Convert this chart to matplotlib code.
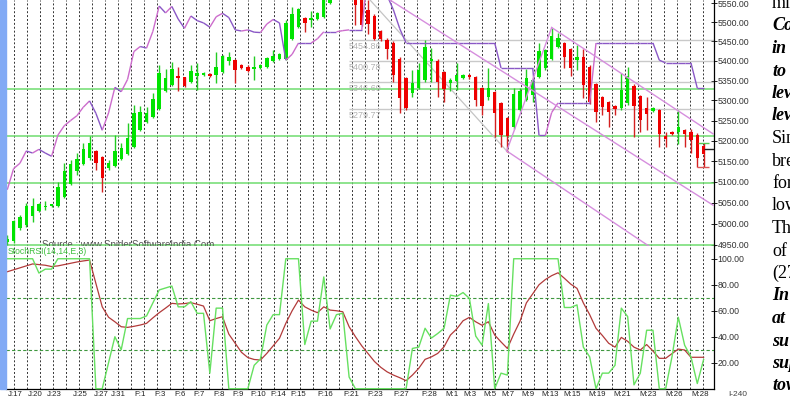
import numpy as np
import matplotlib
matplotlib.use("Agg")
import matplotlib.pyplot as plt
from matplotlib.collections import LineCollection
from matplotlib.patches import Rectangle
from matplotlib.ticker import FixedLocator, FormatStrFormatter, NullLocator

plt.rcParams['font.family'] = ['Liberation Sans', 'DejaVu Sans']

# 240-minute bars, Jan 17 - Mar 28
opens = [4958, 4959, 4990, 4997, 5018, 5030, 5040, 5041, 5041, 5063,
         5095, 5126, 5143, 5158, 5175, 5160, 5133, 5138, 5155, 5167,
         5185, 5226, 5247, 5259, 5279, 5324, 5339, 5362, 5359, 5347,
         5362, 5364, 5367, 5364, 5372, 5400, 5402, 5390, 5385, 5380,
         5382, 5385, 5400, 5405, 5405, 5456, 5488, 5511, 5506, 5509,
         5514, 5550, 5575, 5600, 5590, 5605, 5565, 5532, 5516, 5477,
         5454, 5446, 5405, 5357, 5319, 5331, 5352, 5400, 5400, 5372,
         5344, 5349, 5357, 5363, 5359, 5331, 5309, 5321, 5294, 5256,
         5234, 5276, 5301, 5314, 5360, 5382, 5405, 5436, 5446, 5431,
         5402, 5410, 5385, 5341, 5309, 5296, 5286, 5281, 5294, 5336,
         5311, 5281, 5274, 5276, 5212, 5222, 5221, 5226, 5221, 5214,
         5187]
highs = [4973, 5009, 5020, 5050, 5061, 5050, 5053, 5048, 5099, 5145,
         5153, 5170, 5194, 5212, 5177, 5162, 5153, 5214, 5194, 5244,
         5289, 5286, 5284, 5319, 5390, 5380, 5397, 5385, 5360, 5390,
         5395, 5372, 5369, 5423, 5415, 5423, 5405, 5392, 5390, 5412,
         5393, 5410, 5428, 5420, 5506, 5540, 5538, 5513, 5529, 5527,
         5570, 5590, 5610, 5620, 5615, 5610, 5575, 5558, 5520, 5480,
         5458, 5450, 5410, 5360, 5377, 5395, 5454, 5433, 5405, 5375,
         5357, 5395, 5367, 5368, 5362, 5334, 5382, 5324, 5296, 5258,
         5331, 5331, 5380, 5357, 5446, 5431, 5485, 5472, 5449, 5433,
         5441, 5431, 5390, 5344, 5311, 5299, 5289, 5369, 5385, 5341,
         5314, 5309, 5284, 5279, 5222, 5225, 5276, 5230, 5228, 5219,
         5195]
lows = [4950, 4955, 4985, 4992, 5004, 5028, 5032, 5040, 5040, 5061,
        5092, 5116, 5141, 5153, 5128, 5075, 5128, 5136, 5153, 5165,
        5182, 5224, 5244, 5257, 5276, 5321, 5337, 5324, 5334, 5344,
        5326, 5362, 5360, 5344, 5370, 5390, 5344, 5380, 5372, 5352,
        5380, 5382, 5398, 5403, 5403, 5454, 5485, 5475, 5488, 5506,
        5510, 5548, 5565, 5575, 5570, 5493, 5490, 5470, 5454, 5452,
        5405, 5347, 5269, 5276, 5309, 5329, 5347, 5347, 5309, 5296,
        5324, 5326, 5355, 5355, 5286, 5264, 5301, 5209, 5184, 5172,
        5230, 5274, 5299, 5296, 5357, 5377, 5402, 5433, 5382, 5362,
        5377, 5306, 5290, 5246, 5264, 5234, 5264, 5276, 5289, 5209,
        5221, 5226, 5272, 5184, 5185, 5215, 5192, 5184, 5170, 5136,
        5136]
closes = [4965, 5006, 5016, 5041, 5041, 5046, 5043, 5046, 5087, 5126,
          5143, 5155, 5180, 5194, 5146, 5109, 5146, 5175, 5182, 5207,
          5269, 5271, 5269, 5304, 5369, 5357, 5380, 5356, 5336, 5375,
          5369, 5370, 5362, 5385, 5413, 5410, 5377, 5382, 5375, 5385,
          5390, 5408, 5413, 5418, 5498, 5521, 5535, 5498, 5511, 5524,
          5560, 5575, 5600, 5590, 5605, 5545, 5493, 5494, 5456, 5456,
          5431, 5364, 5306, 5281, 5344, 5377, 5436, 5405, 5347, 5329,
          5352, 5364, 5364, 5360, 5301, 5286, 5331, 5269, 5214, 5212,
          5316, 5324, 5357, 5352, 5425, 5428, 5464, 5459, 5410, 5382,
          5410, 5339, 5296, 5271, 5284, 5271, 5279, 5326, 5362, 5286,
          5251, 5266, 5281, 5217, 5205, 5217, 5234, 5216, 5202, 5158,
          5167]

# trailing stop line drawn over the candles
trail = [5081, 5132, 5145, 5175, 5170, 5179, 5170, 5162, 5214, 5237,
         5250, 5262, 5283, 5299, 5268, 5226, 5269, 5333, 5322, 5353,
         5424, 5437, 5433, 5476, 5542, 5524, 5541, 5508, 5484, 5516,
         5504, 5498, 5487, 5514, 5523, 5512, 5480, 5477, 5480, 5474,
         5473, 5495, 5507, 5498, 5402, 5417, 5446, 5446, 5446, 5457,
         5475, 5475, 5475, 5478, 5480, 5480, 5480, 5640, 5640, 5620,
         5570, 5532, 5483, 5446, 5446, 5446, 5446, 5446, 5446, 5446,
         5446, 5446, 5446, 5446, 5446, 5446, 5446, 5446, 5382, 5382,
         5382, 5382, 5382, 5382, 5213, 5213, 5270, 5294, 5294, 5294,
         5294, 5294, 5294, 5446, 5446, 5446, 5446, 5446, 5446, 5446,
         5446, 5446, 5446, 5402, 5395, 5395, 5395, 5395, 5395, 5331,
         5331]

stoch_k = [100, 100, 100, 100, 100, 89, 92, 92, 100, 100,
           100, 100, 100, 100, 0, 0, 20, 40, 30, 54,
           54, 54, 56, 66, 76, 77.5, 79, 63, 63, 67,
           58, 58, 12, 62, 62, 0, 0, 0, 0, 18,
           23, 49, 57, 57, 100, 100, 100, 34, 52, 52,
           86, 46, 57, 58, 9, 0, 0, 0, 0, 0,
           0, 0, 0, 0, 31, 32, 46.5, 39, 42.5, 46.5,
           72, 71, 74, 69.5, 40.5, 33.5, 65.5, 0, 12, 10.5,
           100, 100, 100, 100, 100, 100, 100, 100, 62.5, 62.5,
           64.5, 32, 24.5, 0, 12, 12, 18, 62, 55.5, 3,
           12, 45, 45, 0, 0, 24.5, 55, 33.5, 24.5, 4,
           22.5]
stoch_d = [90, 91.5, 93, 94.5, 96, 95.5, 95, 94, 94.5, 95.5,
           96.5, 97.5, 98.3, 99, 81, 63, 55, 51.5, 47.7, 47.2,
           48, 49, 50.3, 54.5, 58.5, 62, 65.7, 65.2, 65.5, 66.2,
           65, 63.6, 52.3, 54, 55.4, 42, 35, 28, 24, 22.5,
           22.1, 27.2, 33, 38.8, 50.3, 60, 68.2, 63, 60.5, 58.5,
           63, 60.5, 60, 59.2, 47.7, 40, 33, 27, 21, 16.5,
           13, 10.5, 8.5, 6.2, 10.5, 15.7, 22.6, 24.5, 27.2, 32.3,
           41.3, 46, 52.3, 54.9, 51.5, 48.8, 51.5, 41.3, 36, 31,
           42, 52, 66, 73, 80, 84, 87, 89.2, 85, 80.5,
           77.2, 66, 57, 46.5, 41, 35, 32, 39.5, 36.5, 32,
           29.8, 34, 29, 23.4, 23.4, 27, 30.5, 29.8, 24.2, 24.2,
           24.2]

support_levels = [5328, 5211, 5097, 4951]
fib_levels = [5454.86, 5400.78, 5346.69, 5279.77]
fib_start = 54

# trend lines: (bar, price) anchors
channel_lines = [[(78.9, 5175), (86.0, 5486)],
                 [(86.0, 5486), (111.5, 5217)],
                 [(60.45, 5558), (111.5, 5044)],
                 [(78.9, 5175), (101.5, 4946)]]
gray_line = [(57.3, 5558), (78.9, 5175)]

date_labels = ['J:17', 'J:20', 'J:23', 'J:25', 'J:27', 'J:31', 'F:1', 'F:3',
               'F:6', 'F:7', 'F:8', 'F:9', 'F:10', 'F:14', 'F:15', 'F:16',
               'F:21', 'F:23', 'F:27', 'F:28', 'M:1', 'M:3', 'M:5', 'M:7',
               'M:9', 'M:13', 'M:15', 'M:19', 'M:21', 'M:23', 'M:26', 'M:28']
date_pos = [1.2, 4.4, 7.5, 11.5, 14.9, 17.6, 21, 24.2, 27.3, 30.3, 33.5, 36.5,
            39.7, 42.8, 46, 50.2, 54.4, 58.1, 62.3, 66.6, 70.2, 73.1, 76.2,
            79.1, 82.3, 85.7, 89.2, 93.2, 97.2, 101.3, 105.3, 109.4]

side_text = [('mi', False), ('Co', True), ('in', True), ('to', True),
             ('lev', True), ('lev', True), ('Sin', False), ('bre', False),
             ('for', False), ('low', False), ('Th', False), ('of', False),
             ('(27', False), ('In', True), ('at', True), ('su', True),
             ('sup', True), ('tow', True)]

W, H = 790, 401
fig = plt.figure(figsize=(W / 100, H / 100), dpi=100)


def fx(px):
    return px / W


def fy(py):
    return 1 - py / H


fig.patches.append(Rectangle((0, fy(389)), fx(6), fy(0) - fy(389),
                             transform=fig.transFigure, color='#82aaf5', zorder=0))

ax = fig.add_axes([fx(6), fy(246), fx(708), fy(0) - fy(246)])
ax2 = fig.add_axes([fx(6), fy(389), fx(708), fy(246) - fy(389)], sharex=ax)

n = len(opens)
x = np.arange(n)
o, h, l, c = (np.array(a, dtype=float) for a in (opens, highs, lows, closes))

ax.set_yscale('log')
ax.set_xlim(-0.2, 111.64)
ax.set_ylim(4947.6, 5557.9)

grid_x = np.arange(1.06, 111.5, 2.054)
for a in (ax, ax2):
    for gx in grid_x:
        a.axvline(gx, color='#333333', lw=0.7, ls=(0, (2, 2)), zorder=1)

for lv in support_levels:
    ax.axhline(lv, color='#6fdc6f', lw=1.1, zorder=2)
for lv in fib_levels:
    ax.hlines(lv, fib_start, 111.64, color='#c9c9c9', lw=1.0, zorder=2)
    ax.annotate(f'{lv:.2f}', (fib_start, lv), xytext=(0, -1.5),
                textcoords='offset points', va='top', ha='left',
                fontsize=6.5, color='#b2b2b2', zorder=2)

up = c >= o
ax.vlines(x, l, h, colors=np.where(up, '#22cc22', '#d42020'), lw=1, zorder=3)
lo = np.minimum(o, c)
body = np.maximum(np.maximum(o, c) - lo, 2.5)
ax.bar(x, body, bottom=lo, width=0.54, color=np.where(up, '#00e400', '#ee0000'),
       lw=0, zorder=3)

# trailing line: rising segments pink, others purple
tr = np.array(trail, dtype=float)
segs = [[(x[i], tr[i]), (x[i + 1], tr[i + 1])] for i in range(n - 1)]
seg_cols = ['#cc6ccc' if tr[i + 1] > tr[i] else '#8a58c6' for i in range(n - 1)]
ax.add_collection(LineCollection(segs, colors=seg_cols, lw=1.0, zorder=4))

for line in channel_lines:
    (x0, y0), (x1, y1) = line
    ax.plot([x0, x1], [y0, y1], color='#d68ede', lw=1.0, zorder=4)
ax.plot([gray_line[0][0], gray_line[1][0]], [gray_line[0][1], gray_line[1][1]],
        color='#c4c4c4', lw=0.9, zorder=2)

# last bar markers
ax.hlines(5195, 109.1, 110.9, color='#55cc55', lw=1, zorder=4)
ax.hlines(5136, 109.0, 110.8, color='#dd5555', lw=1, zorder=4)
ax.hlines(5180, 110.1, 111.6, color='#222222', lw=1, zorder=4)

ax.text(5.5, -2 / 246, 'Source : www.SpiderSoftwareIndia.Com', transform=ax.get_xaxis_transform(),
        fontsize=7, color='#555555', va='baseline', ha='left', clip_on=True, zorder=5)

ax.yaxis.tick_right()
ax.yaxis.set_major_locator(FixedLocator(np.arange(4950, 5551, 50)))
ax.yaxis.set_minor_locator(NullLocator())
ax.yaxis.set_major_formatter(FormatStrFormatter('%.2f'))
ax.tick_params(axis='y', direction='inout', length=4, width=0.6, pad=0.5,
               labelsize=6.3, labelcolor='#333333')
ax.tick_params(axis='x', length=0, labelbottom=False)
for s in ('top', 'left', 'bottom'):
    ax.spines[s].set_visible(False)
ax.spines['right'].set_linewidth(0.9)

# StochRSI panel
ax2.set_ylim(-0.2, 109.8)
ax2.axhline(70, color='#3f973f', lw=0.8, ls=(0, (3, 2)), zorder=2)
ax2.axhline(30, color='#3f973f', lw=0.8, ls=(0, (3, 2)), zorder=2)
ax2.plot(x, stoch_d, color='#b23a3a', lw=0.9, zorder=3)
ax2.plot(x, stoch_k, color='#66e060', lw=1.0, zorder=4, clip_on=False)
ax2.text(0.002, 0.995, 'StochRSI(14,14,E,3)', transform=ax2.transAxes, fontsize=6.2,
         color='#3cbf3c', va='top', ha='left', zorder=5)

ax2.yaxis.tick_right()
ax2.yaxis.set_major_locator(FixedLocator([20, 40, 60, 80, 100]))
ax2.yaxis.set_major_formatter(FormatStrFormatter('%.2f'))
ax2.tick_params(axis='y', direction='inout', length=4, width=0.6, pad=0.5,
                labelsize=6.3, labelcolor='#333333')
ax2.set_xticks(date_pos)
ax2.set_xticklabels(date_labels)
ax2.tick_params(axis='x', length=0, pad=1.5, labelsize=5.7, labelcolor='#222222')
for s in ('top', 'left'):
    ax2.spines[s].set_visible(False)
ax2.spines['right'].set_linewidth(0.9)
ax2.spines['bottom'].set_linewidth(0.9)

fig.text(fx(738), fy(395), 'I-240', fontsize=6, color='#444444', ha='center', va='center')

for i, (word, emph) in enumerate(side_text):
    fig.text(fx(772), fy(8 + 22.5 * i), word, family=['Liberation Serif', 'DejaVu Serif'],
             fontsize=13, fontweight='bold' if emph else 'normal',
             fontstyle='italic' if emph else 'normal', va='baseline', ha='left')

fig.savefig('out.png', dpi=100)
